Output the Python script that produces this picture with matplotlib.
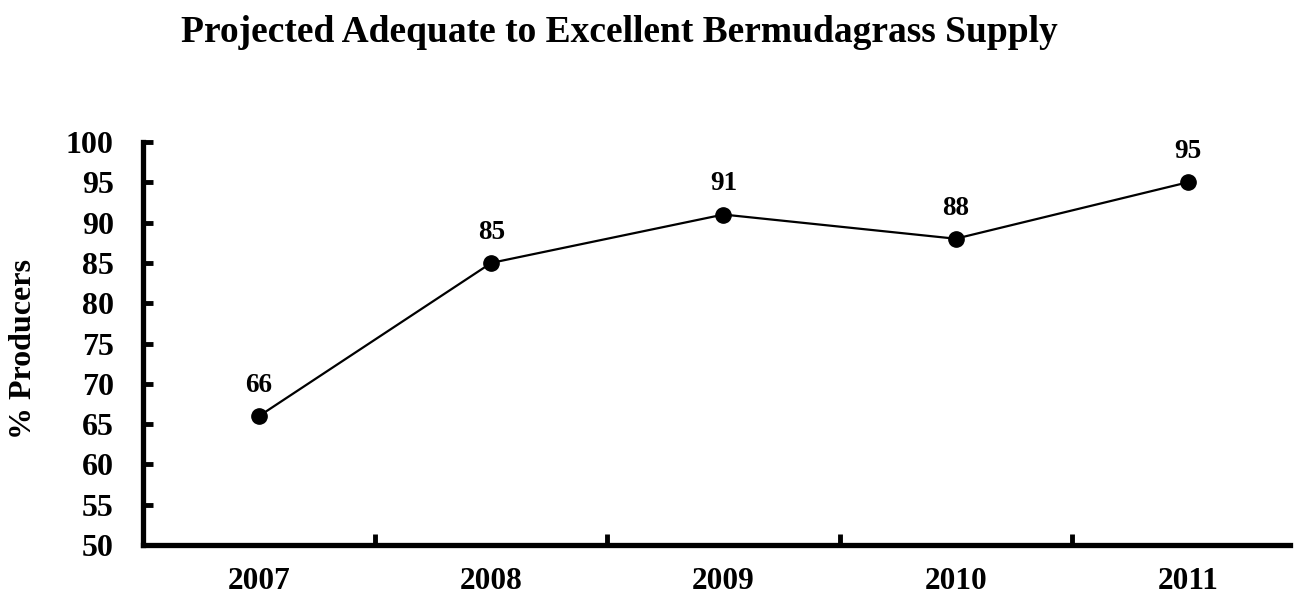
import matplotlib
matplotlib.use('Agg')
import matplotlib.pyplot as plt

# Chart data
years = ['2007', '2008', '2009', '2010', '2011']
pct_producers = [66, 85, 91, 88, 95]
y_ticks = list(range(50, 101, 5))

plt.rcParams['font.family'] = ['Liberation Serif', 'DejaVu Serif']
plt.rcParams['font.weight'] = 'bold'

fig = plt.figure(figsize=(12.94, 5.97), dpi=100)
ax = fig.add_axes([143 / 1294, 52 / 597, (1290 - 143) / 1294, (545 - 142) / 597])

x = list(range(len(years)))
ax.plot(x, pct_producers, color='black', linewidth=1.6, marker='o',
        markersize=11, markerfacecolor='black', markeredgecolor='black', clip_on=False)

# value labels above points
for xi, v in zip(x, pct_producers):
    ax.annotate(str(v), (xi, v), xytext=(0, 13), textcoords='offset points',
                ha='center', va='bottom', fontsize=19.5, fontweight='bold')

ax.set_xlim(-0.5, 4.44)
ax.set_ylim(50, 100)
ax.set_yticks(y_ticks)
ax.set_yticklabels([str(t) for t in y_ticks], fontsize=23, fontweight='bold')

# category labels in the middle, ticks on the boundaries
ax.set_xticks(x)
ax.set_xticklabels(years, fontsize=22.5, fontweight='bold')
ax.tick_params(axis='x', which='major', length=0, pad=16)
ax.set_xticks([0.5, 1.5, 2.5, 3.5], minor=True)
ax.tick_params(axis='x', which='minor', direction='in', length=8, width=3.5)
ax.tick_params(axis='y', direction='in', length=7, width=3.5, pad=21)

for side in ['top', 'right']:
    ax.spines[side].set_visible(False)
for side in ['left', 'bottom']:
    ax.spines[side].set_linewidth(3.8)

fig.text(24 / 1294, 1 - 349 / 597, '% Producers', rotation=90, ha='center', va='center',
         fontsize=23, fontweight='bold')
fig.text(619 / 1294, 1 - 33 / 597, 'Projected Adequate to Excellent Bermudagrass Supply',
         ha='center', va='center', fontsize=27, fontweight='bold')

fig.savefig('out.png', dpi=100)
